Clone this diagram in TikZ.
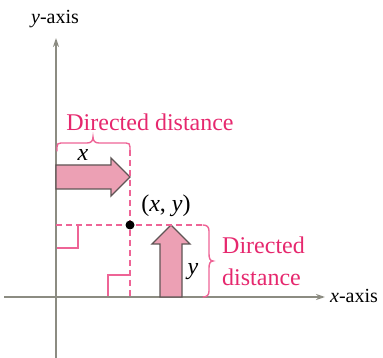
\documentclass[tikz,border=0pt]{standalone}
\usepackage{fontspec}
\setmainfont{Liberation Serif}
\usetikzlibrary{arrows.meta}
\definecolor{pinktext}{RGB}{230,40,110}
\definecolor{pinkline}{RGB}{238,100,150}
\definecolor{arrowfill}{RGB}{236,160,180}
\definecolor{arrowedge}{RGB}{95,85,85}
\definecolor{axisgray}{RGB}{140,140,130}
\tikzset{
  axis/.style={draw=axisgray, line width=2pt, -{Stealth[length=9pt,width=6pt]}},
  guide/.style={draw=pinkline, line width=1.4pt, dash pattern=on 6pt off 4pt},
  marker/.style={draw=pinkline, line width=1.4pt},
  bracestyle/.style={draw=pinkline, line width=1.4pt, line cap=round},
  bigarrow/.style={fill=arrowfill, draw=arrowedge, line width=1.4pt, line join=miter},
  pinklabel/.style={text=pinktext, font=\fontsize{24}{31}\selectfont, inner sep=0pt},
  mathlabel/.style={font=\fontsize{24}{30}\selectfont, inner sep=0pt},
  axislabel/.style={font=\fontsize{20}{24}\selectfont, inner sep=0pt}
}
\begin{document}
\begin{tikzpicture}[x=1pt,y=-1pt]
\useasboundingbox (0,0) rectangle (383,358);
% coordinates
\coordinate (O) at (56,297);
\coordinate (P) at (130,225);
\coordinate (ybot) at (56,358);
\coordinate (ytop) at (56,38);
\coordinate (xleft) at (4,297);
\coordinate (xright) at (325,297);
\coordinate (hend) at (203,225);
\coordinate (vtop) at (130,150);
\coordinate (vbot) at (130,297);
% axes
\draw[axis] (ybot) -- (ytop);
\draw[axis] (xleft) -- (xright);
% horizontal arrow
\draw[bigarrow] (56,165) -- (111,165) -- (111,158) -- (130,177) -- (111,196) -- (111,189) -- (56,189) -- cycle;
% vertical arrow
\draw[bigarrow] (160,297) -- (160,244) -- (152,244) -- (171,225) -- (190,244) -- (182,244) -- (182,297) -- cycle;
% dashed guides
\draw[guide] (56,225) -- (hend);
\draw[guide] (vtop) -- (vbot);
% right angle markers
\draw[marker] (78,225) -- (78,248) -- (57,248);
\draw[marker] (108,296) -- (108,275) -- (130,275);
% top brace
\draw[bracestyle] (57,151) -- (57,147) .. controls (57,144) and (58,143) .. (61,143) -- (87,143) .. controls (91,143) and (93,141) .. (93,137) .. controls (93,141) and (95,143) .. (99,143) -- (126,143) .. controls (129,143) and (130,144) .. (130,147) -- (vtop);
% right brace
\draw[bracestyle] (hend) .. controls (207,225) and (209,227) .. (209,231) -- (209,254) .. controls (209,258) and (210,261) .. (213,261) .. controls (210,261) and (209,264) .. (209,268) -- (209,291) .. controls (209,295) and (207,297) .. (203,297);
% point
\fill (P) circle (4.5pt);
\node[circle, inner sep=0pt, minimum size=1pt] (pt) at (P) {};
% labels
\node[pinklabel, anchor=base] (dd1) at (150,131) {Directed distance};
\node[pinklabel, anchor=base west, align=left] (dd2) at (222,254) {Directed};
\node[pinklabel, anchor=base west] (dd3) at (222,285) {distance};
\node[mathlabel, anchor=base] (xl) at (83,161) {\textit{x}};
\node[mathlabel, anchor=base] (yl) at (193,275) {\textit{y}};
\node[mathlabel, anchor=base] (pl) at (166,212) {(\textit{x}, \textit{y})};
\node[axislabel, anchor=base] (ya) at (55,24) {\textit{y}-axis};
\node[axislabel, anchor=base west] (xa) at (330,302) {\textit{x}-axis};
\end{tikzpicture}
\end{document}
